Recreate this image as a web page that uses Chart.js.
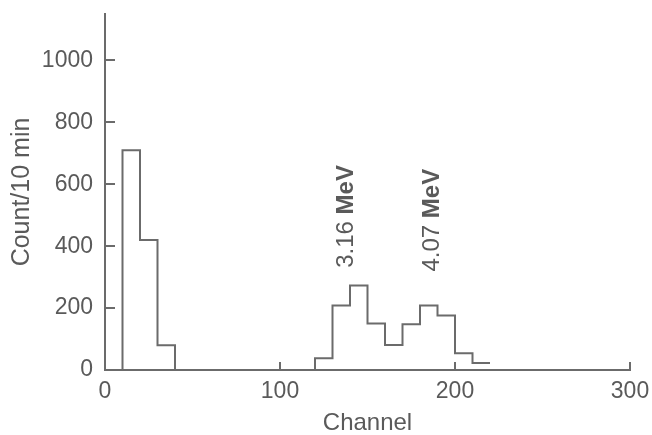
<!DOCTYPE html>
<html>
<head>
<meta charset="utf-8">
<script src="https://cdn.jsdelivr.net/npm/chart.js@4.4.0/dist/chart.umd.min.js"></script>
<style>
  html, body { margin: 0; padding: 0; background: #fff; }
  #wrap { width: 652px; height: 435px; }
</style>
</head>
<body>
<div id="wrap"><canvas id="spectrum"></canvas></div>
<script>
// histogram bins: left edge of each 10-channel bin and its count
const binEdges = [10, 20, 30, 40, 50, 60, 70, 80, 90, 100, 110, 120, 130, 140, 150, 160, 170, 180, 190, 200, 210];
const binCounts = [710, 420, 80, 0, 0, 0, 0, 0, 0, 0, 0, 38, 208, 273, 150, 81, 148, 208, 176, 54, 23];
const binWidth = 10;

// peak annotations
const peakNames = ['3.16', '4.07'];
const peakChannels = [138, 187];
const peakBase = [330, 318];

const xTicks = [0, 100, 200, 300];
const yTicks = [0, 200, 400, 600, 800, 1000];

const ink = '#5a5a5a';
const lineInk = '#6b6b6b';
const family = '"Liberation Sans", Arial, sans-serif';

// step points for the histogram outline
const points = [{x: binEdges[0], y: 0}];
binEdges.forEach((e, i) => points.push({x: e, y: binCounts[i]}));
points.push({x: binEdges[binEdges.length - 1] + binWidth, y: binCounts[binCounts.length - 1]});

// tick marks pointing into the plot, and the rotated peak labels
const decorations = {
    id: 'decorations',
    afterDatasetsDraw(chart) {
        const {ctx, scales: {x, y}} = chart;
        const x0 = x.getPixelForValue(0);
        const y0 = y.getPixelForValue(0);
        ctx.save();
        ctx.strokeStyle = lineInk;
        ctx.lineWidth = 2;
        ctx.beginPath();
        yTicks.slice(1).forEach(v => {
            const py = Math.round(y.getPixelForValue(v));
            ctx.moveTo(x0, py);
            ctx.lineTo(x0 + 10, py);
        });
        xTicks.slice(1).forEach(v => {
            const px = Math.round(x.getPixelForValue(v));
            ctx.moveTo(px, y0);
            ctx.lineTo(px, y0 - 8);
        });
        ctx.stroke();

        ctx.fillStyle = ink;
        ctx.textBaseline = 'middle';
        ctx.textAlign = 'left';
        peakNames.forEach((name, i) => {
            ctx.save();
            ctx.translate(x.getPixelForValue(peakChannels[i]), y.getPixelForValue(peakBase[i]));
            ctx.rotate(-Math.PI / 2);
            ctx.font = '24px ' + family;
            const w = ctx.measureText(name + ' ').width;
            ctx.fillText(name + ' ', 0, 0);
            ctx.font = 'bold 24px ' + family;
            ctx.fillText('MeV', w, 0);
            ctx.restore();
        });
        ctx.restore();
    }
};

const ctx = document.getElementById('spectrum').getContext('2d');
new Chart(ctx, {
    type: 'line',
    data: {
        datasets: [{
            data: points,
            stepped: true,
            borderColor: lineInk,
            borderWidth: 2,
            pointRadius: 0,
            fill: false
        }]
    },
    options: {
        responsive: true,
        maintainAspectRatio: false,
        animation: false,
        layout: { padding: { left: 0, top: 14, right: 22, bottom: 0 } },
        plugins: { legend: { display: false }, tooltip: { enabled: false } },
        scales: {
            x: {
                type: 'linear',
                min: 0,
                max: 300,
                afterBuildTicks: s => { s.ticks = xTicks.map(v => ({value: v})); },
                afterFit: s => { s.height = 65; s.paddingLeft = 0; s.paddingRight = 0; },
                border: { color: lineInk, width: 2 },
                grid: { display: false },
                ticks: { color: ink, padding: 0, font: { family: family, size: 23 },
                         callback: v => String(v) },
                title: { display: true, text: 'Channel', color: ink, padding: 0,
                         font: { family: family, size: 24, lineHeight: 1 } }
            },
            y: {
                min: 0,
                max: 1150,
                afterBuildTicks: s => { s.ticks = yTicks.map(v => ({value: v})); },
                afterFit: s => { s.width = 105; s.paddingTop = 0; s.paddingBottom = 0; },
                border: { color: lineInk, width: 2 },
                grid: { display: false },
                ticks: { color: ink, padding: 4, font: { family: family, size: 23 },
                         callback: v => String(v) },
                title: { display: true, text: 'Count/10 min', color: ink, padding: { top: 10 },
                         font: { family: family, size: 25, lineHeight: 1 } }
            }
        }
    },
    plugins: [decorations]
});
</script>
</body>
</html>
